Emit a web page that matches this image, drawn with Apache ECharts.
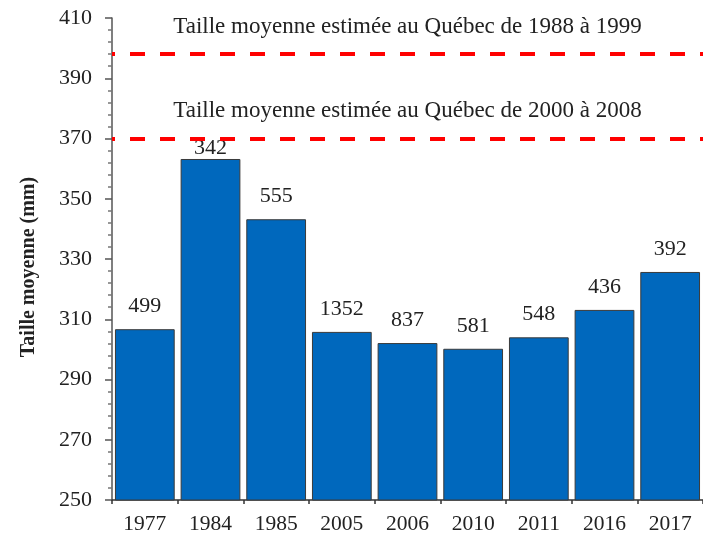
<!DOCTYPE html>
<html>
<head>
<meta charset="utf-8">
<script src="https://cdn.jsdelivr.net/npm/echarts@6/dist/echarts.min.js"></script>
<style>
html,body{margin:0;padding:0;background:#fff;}
#chart{width:703px;height:542px;}
</style>
</head>
<body>
<div id="chart"></div>
<script>
const categories = ['1977','1984','1985','2005','2006','2010','2011','2016','2017'];
const meanSize = [306.7, 363.2, 343.2, 305.8, 302.1, 300.2, 304.0, 313.1, 325.7];
const sampleSize = ['499','342','555','1352','837','581','548','436','392'];
const refValues = [398, 370];
const refLabels = ['Taille moyenne estimée au Québec de 1988 à 1999', 'Taille moyenne estimée au Québec de 2000 à 2008'];
const yTicks = {min: 250, max: 410, interval: 20};

const FONT = 'Liberation Serif';
const chart = echarts.init(document.getElementById('chart'), null, {renderer: 'canvas'});

const barData = meanSize.map((v, i) => ({
  value: v,
  label: {formatter: sampleSize[i], distance: i === 1 ? 0 : 12}
}));

chart.setOption({
  animation: false,
  backgroundColor: '#ffffff',
  grid: {left: 112, top: 18, width: 596, bottom: 42, containLabel: false},
  xAxis: {
    type: 'category',
    data: categories,
    axisLine: {lineStyle: {color: '#333', width: 1.5}},
    axisTick: {show: true, length: 4, lineStyle: {color: '#333', width: 1.5}},
    axisLabel: {fontFamily: FONT, fontSize: 21.5, color: '#222', margin: 13}
  },
  yAxis: {
    type: 'value',
    min: yTicks.min, max: yTicks.max, interval: yTicks.interval,
    name: 'Taille moyenne (mm)',
    nameLocation: 'middle',
    nameRotate: 90,
    nameGap: 73,
    nameTextStyle: {fontFamily: FONT, fontSize: 20, fontWeight: 'bold', color: '#222', padding: [0, 16, 0, 0]},
    axisLine: {show: true, lineStyle: {color: '#555', width: 1.5}},
    axisTick: {show: true, length: 7, lineStyle: {color: '#555', width: 1.5}},
    minorTick: {show: true, splitNumber: 5, length: 4, lineStyle: {color: '#777', width: 1.5}},
    splitLine: {show: false},
    axisLabel: {fontFamily: FONT, fontSize: 22, color: '#222', margin: 20}
  },
  series: [{
    type: 'bar',
    data: barData,
    barCategoryGap: '9%',
    itemStyle: {color: '#0068BD', borderColor: '#3a3a3a', borderWidth: 1},
    label: {show: true, position: 'top', fontFamily: FONT, fontSize: 22, color: '#222'},
    markLine: {
      silent: true,
      symbol: ['none', 'none'],
      lineStyle: {color: '#ff0000', width: 4, type: [15, 15], dashOffset: 12},
      label: {show: true, position: 'insideMiddleTop', distance: 16, fontFamily: FONT, fontSize: 23, color: '#222'},
      data: refValues.map((v, i) => ({yAxis: v, label: {formatter: refLabels[i]}}))
    }
  }]
});
</script>
</body>
</html>
